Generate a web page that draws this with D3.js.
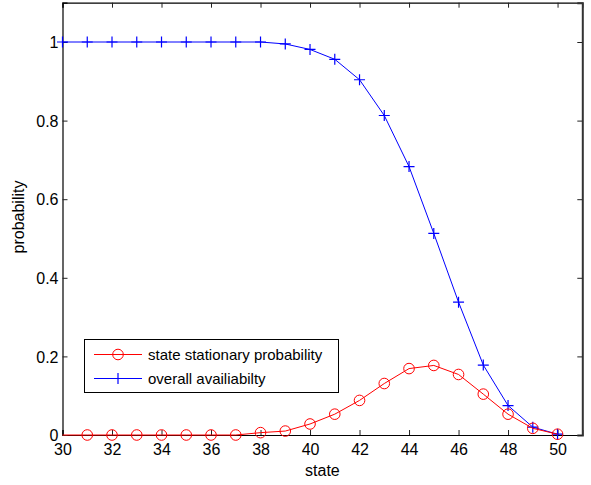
<!DOCTYPE html>
<html><head><meta charset="utf-8">
<script src="https://cdn.jsdelivr.net/npm/d3@7"></script>
<style>body{margin:0;background:#fff}svg{display:block}text{font-family:"Liberation Sans",Arial,sans-serif}</style>
</head><body>
<script>
const states = [30,31,32,33,34,35,36,37,38,39,40,41,42,43,44,45,46,47,48,49,50];
const stationary = [0,0,0,0,0,0,0,0,0.006,0.01,0.028,0.053,0.088,0.131,0.169,0.177,0.154,0.104,0.053,0.017,0.002];
const availability = [1,1,1,1,1,1,1,1,1,0.995,0.981,0.956,0.904,0.813,0.683,0.513,0.338,0.178,0.075,0.02,0.002];
const xTicks = [30,32,34,36,38,40,42,44,46,48,50];
const yTicks = [0,0.2,0.4,0.6,0.8,1];
const legendLabels = ["state stationary probability","overall availiabilty"];

const W=591,H=485;
const L=62.5,R=582.3,T=2.7,B=435;
const svg=d3.select("body").append("svg").attr("width",W).attr("height",H);
const x=d3.scaleLinear().domain([30,51]).range([L,R]);
const y=d3.scaleLinear().domain([0,1.1]).range([B,T]);

svg.append("rect").attr("x",L).attr("y",T).attr("width",R-L).attr("height",B-T).attr("fill","#fff");

const fmt=d=>d===0?"0":d===1?"1":d3.format(".1f")(d);
const gB=svg.append("g").attr("transform",`translate(0,${B})`).call(d3.axisBottom(x).tickValues(xTicks).tickSize(-5));
const gT=svg.append("g").attr("transform",`translate(0,${T})`).call(d3.axisTop(x).tickValues(xTicks).tickSize(-5).tickFormat(""));
const gL=svg.append("g").attr("transform",`translate(${L},0)`).call(d3.axisLeft(y).tickValues(yTicks).tickSize(-5).tickFormat(fmt));
const gR=svg.append("g").attr("transform",`translate(${R},0)`).call(d3.axisRight(y).tickValues(yTicks).tickSize(-5).tickFormat(""));
[gB,gT,gL,gR].forEach(g=>{g.select(".domain").attr("stroke","#000").attr("stroke-width",1.2);g.selectAll(".tick line").attr("stroke","#222");g.selectAll("text").attr("font-size",16).attr("fill","#000").attr("font-family","Liberation Sans, Arial, sans-serif");});
gR.select(".domain").attr("stroke","#333").attr("stroke-width",2);
gB.selectAll("text").attr("y",20).attr("dy",0);
gL.selectAll("text").attr("x",-4).attr("dy","0.36em");

svg.append("text").attr("x",(L+R)/2).attr("y",476).attr("text-anchor","middle").attr("font-size",16).text("state");
svg.append("text").attr("transform",`translate(24,217) rotate(-90)`).attr("text-anchor","middle").attr("font-size",16).text("probability");

const line=d3.line().x((d,i)=>x(states[i])).y(d=>y(d));
svg.append("path").datum(availability).attr("d",line).attr("fill","none").attr("stroke","#0000ff").attr("stroke-width",1);
const plus=(g,cx,cy,s,c)=>{g.append("path").attr("d",`M${cx-s},${cy}H${cx+s}M${cx},${cy-s}V${cy+s}`).attr("stroke",c).attr("stroke-width",1.2).attr("fill","none");};
const gp=svg.append("g");
availability.forEach((v,i)=>plus(gp,x(states[i]),y(v),5.5,"#0000ff"));
svg.append("path").datum(stationary).attr("d",line).attr("fill","none").attr("stroke","#ff0000").attr("stroke-width",1);
svg.append("g").selectAll("circle").data(stationary.map((v,i)=>[states[i],v]).filter(d=>d[0]>30)).join("circle")
 .attr("cx",d=>x(d[0])).attr("cy",d=>y(d[1])).attr("r",5.3).attr("fill","none").attr("stroke","#ff0000").attr("stroke-width",1);

const lg=svg.append("g");
lg.append("rect").attr("x",84.5).attr("y",339.5).attr("width",254).attr("height",53).attr("fill","#fff").attr("stroke","#000").attr("stroke-width",1);
const ly=[354.5,378.5],lc=["#ff0000","#0000ff"];
ly.forEach((yy,i)=>{
  lg.append("line").attr("x1",94).attr("x2",142).attr("y1",yy).attr("y2",yy).attr("stroke",lc[i]).attr("stroke-width",1);
  if(i===0) lg.append("circle").attr("cx",118).attr("cy",yy).attr("r",5.3).attr("fill","none").attr("stroke",lc[i]);
  else plus(lg,118,yy,5.5,lc[i]);
  lg.append("text").attr("x",148).attr("y",yy).attr("dy","0.35em").attr("font-size",15).text(legendLabels[i]);
});
</script>
</body></html>
